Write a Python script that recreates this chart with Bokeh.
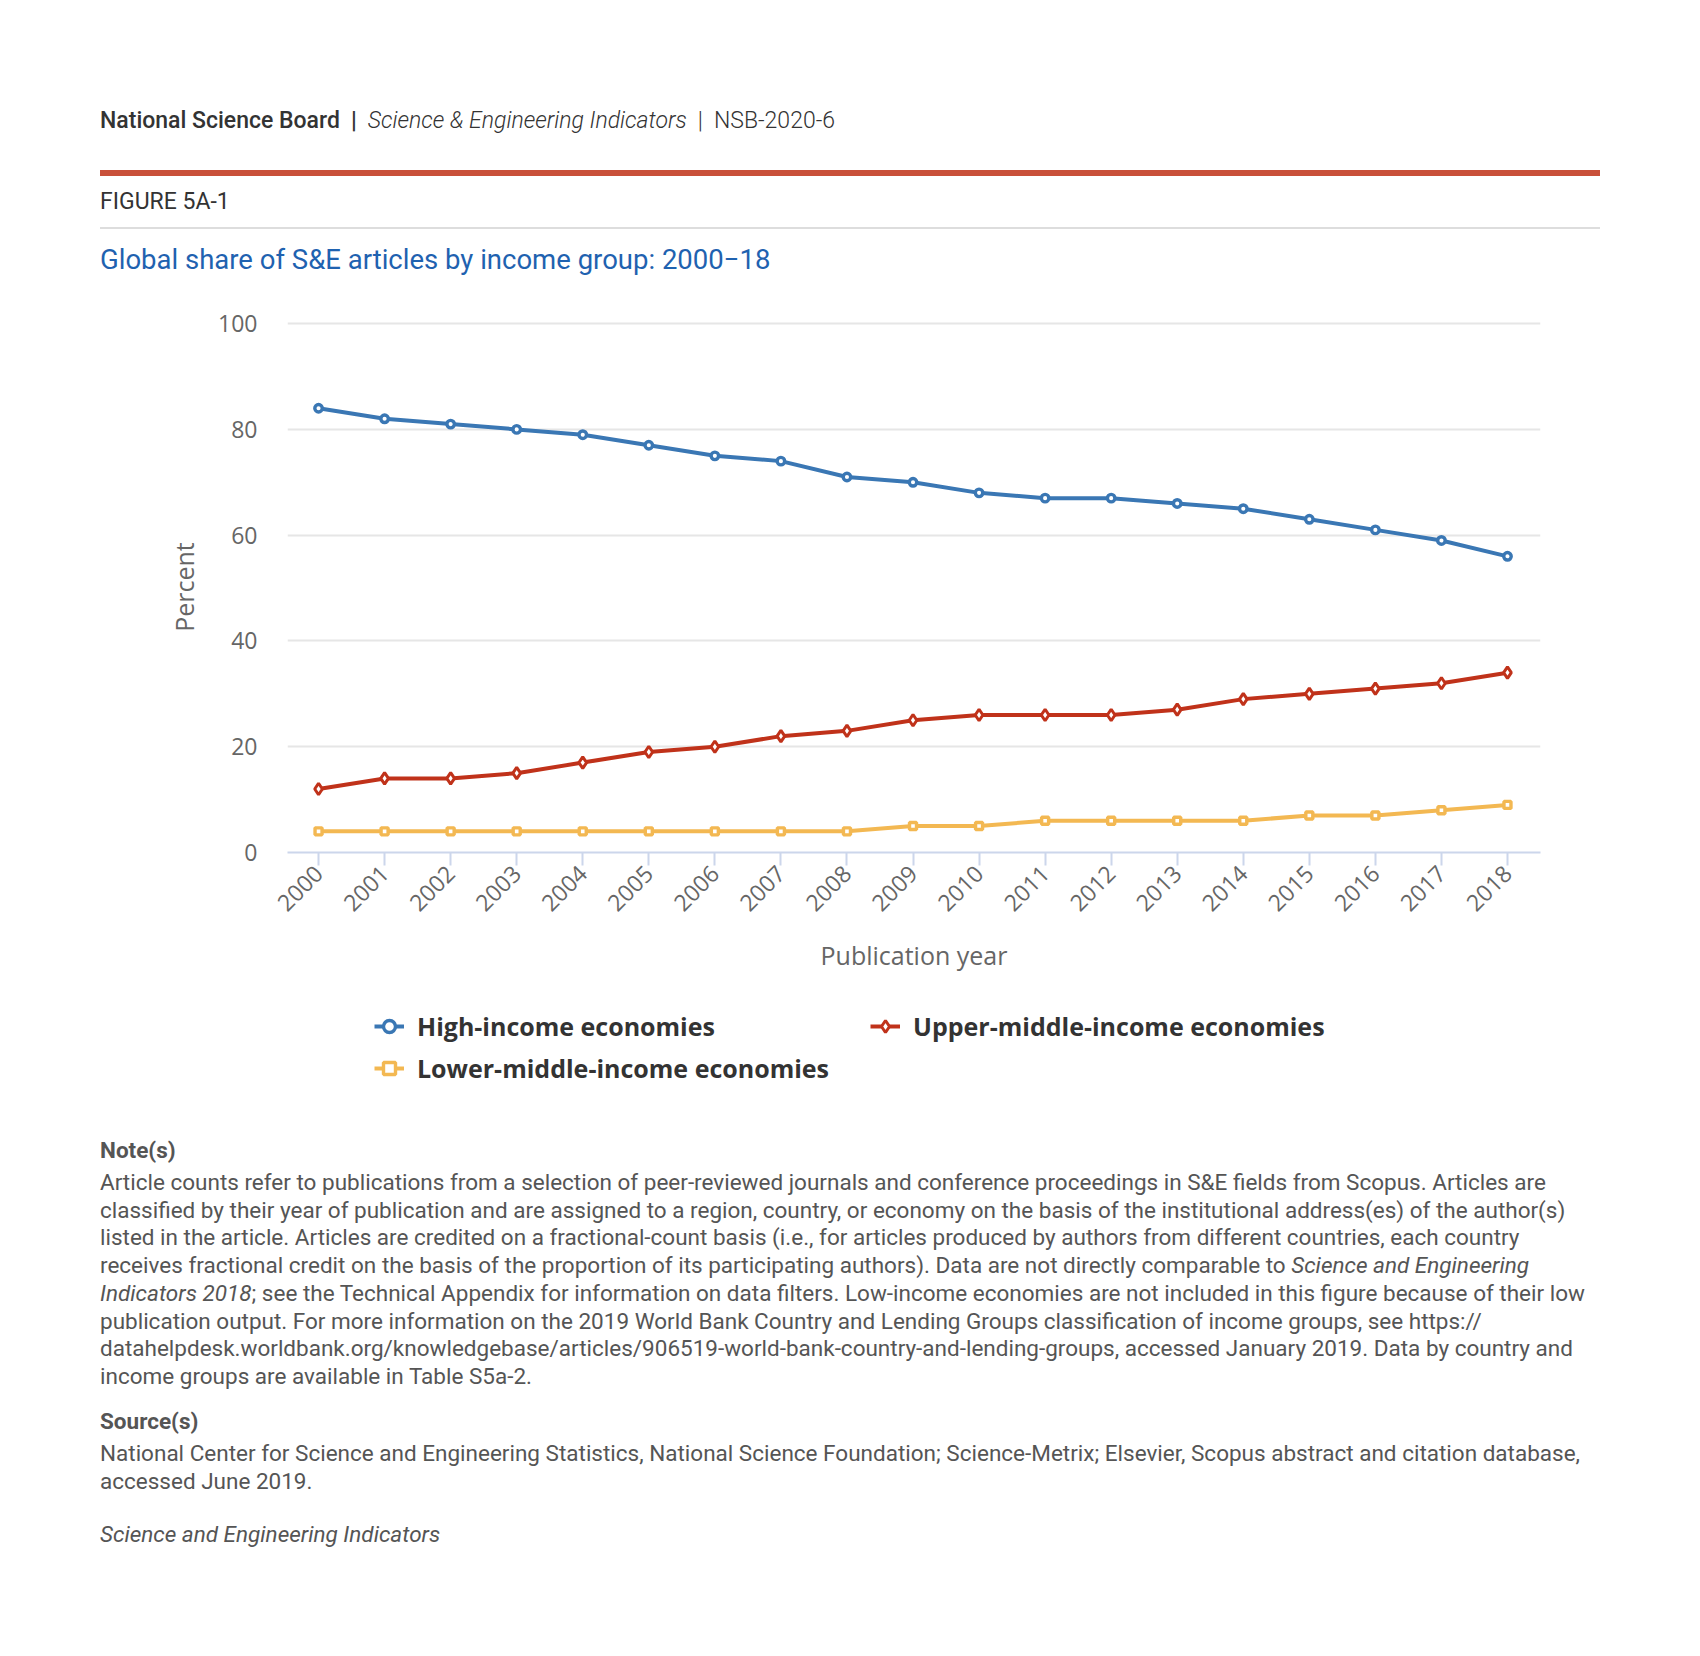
import math
from bokeh.plotting import figure
from bokeh.models import Div, Range1d, FixedTicker, Legend, LegendItem
from bokeh.layouts import column
from bokeh.embed import file_html
from bokeh.resources import INLINE

# ---------------- data ----------------
years = list(range(2000, 2019))
year_labels = [str(y) for y in years]
high_income = [84, 82, 81, 80, 79, 77, 75, 74, 71, 70, 68, 67, 67, 66, 65, 63, 61, 59, 56]
upper_middle = [12, 14, 14, 15, 17, 19, 20, 22, 23, 25, 26, 26, 26, 27, 29, 30, 31, 32, 34]
lower_middle = [4, 4, 4, 4, 4, 4, 4, 4, 4, 5, 5, 6, 6, 6, 6, 7, 7, 8, 9]
y_ticks = [0, 20, 40, 60, 80, 100]
series_names = ["High-income economies", "Upper-middle-income economies",
                "Lower-middle-income economies"]

BLUE = "#3a77b4"
RED = "#c0321a"
YELLOW = "#f3b852"

# ---------------- header ----------------
top_html = """
<div style="position:relative;width:1684px;height:280px;font-family:Roboto;">
 <div style="position:absolute;left:100px;top:106px;line-height:30px;font-size:23px;color:#333333;white-space:nowrap;">
  <span style="font-weight:500">National Science Board</span><span style="font-weight:700;margin:0 11px">|</span><span style="font-style:italic;font-weight:300">Science &amp; Engineering Indicators</span><span style="font-weight:300;margin:0 11px">|</span><span style="font-weight:300">NSB-2020-6</span>
 </div>
 <div style="position:absolute;left:100px;top:170px;width:1500px;height:6px;background:#c9503a;"></div>
 <div style="position:absolute;left:100px;top:187px;line-height:30px;font-size:23px;font-weight:400;color:#333333;white-space:nowrap;">FIGURE 5A-1</div>
 <div style="position:absolute;left:100px;top:227px;width:1500px;height:2px;background:#dddddd;"></div>
 <div style="position:absolute;left:100px;top:242px;line-height:36px;font-size:27.5px;color:#1f62b0;white-space:nowrap;">Global share of S&amp;E articles by income group: 2000&#8722;18</div>
</div>
"""
top_div = Div(text=top_html, width=1684, height=280, margin=(0, 0, 0, 0))

# ---------------- chart ----------------
p = figure(width=1684, height=710,
           x_range=Range1d(1999.53, 2018.5), y_range=Range1d(0, 100.4),
           output_backend="svg", toolbar_location=None,
           min_border_left=287, min_border_right=144,
           min_border_top=41, min_border_bottom=138)
p.outline_line_color = None
p.background_fill_color = "white"
p.border_fill_color = "white"

line_kw = dict(line_width=4)
circ_kw = dict(marker="circle", size=7.5, fill_color="white", line_width=3.4)
diam_kw = dict(marker="diamond", size=11.5, fill_color="white", line_width=3)
sq_kw = dict(marker="square", size=7, fill_color="white", line_width=3.4)

p.line(years, high_income, line_color=BLUE, **line_kw)
p.scatter(years, high_income, line_color=BLUE, **circ_kw)
p.line(years, upper_middle, line_color=RED, **line_kw)
p.scatter(years, upper_middle, line_color=RED, **diam_kw)
p.line(years, lower_middle, line_color=YELLOW, **line_kw)
p.scatter(years, lower_middle, line_color=YELLOW, **sq_kw)

p.xaxis.ticker = FixedTicker(ticks=years)
p.xaxis.major_label_overrides = {y: s for y, s in zip(years, year_labels)}
p.xaxis.major_label_orientation = math.pi / 4
p.xaxis.axis_line_color = "#ccd6eb"
p.xaxis.axis_line_width = 2
p.xaxis.major_tick_line_color = "#ccd6eb"
p.xaxis.major_tick_line_width = 2
p.xaxis.major_tick_out = 13
p.xaxis.major_tick_in = 0
p.xaxis.minor_tick_line_color = None
p.xaxis.major_label_text_font = "Open Sans"
p.xaxis.major_label_text_font_size = "23px"
p.xaxis.major_label_text_color = "#666666"
p.xaxis.major_label_standoff = 4
p.xaxis.axis_label = "Publication year"
p.xaxis.axis_label_text_font = "Open Sans"
p.xaxis.axis_label_text_font_style = "normal"
p.xaxis.axis_label_text_font_size = "25px"
p.xaxis.axis_label_text_color = "#666666"
p.xaxis.axis_label_standoff = 16
p.xgrid.visible = False

p.yaxis.ticker = FixedTicker(ticks=y_ticks)
p.yaxis.axis_line_color = None
p.yaxis.major_tick_line_color = None
p.yaxis.minor_tick_line_color = None
p.yaxis.major_label_text_font = "Open Sans"
p.yaxis.major_label_text_font_size = "23px"
p.yaxis.major_label_text_color = "#666666"
p.yaxis.major_label_standoff = 24
p.yaxis.axis_label = "Percent"
p.yaxis.axis_label_text_font = "Open Sans"
p.yaxis.axis_label_text_font_style = "normal"
p.yaxis.axis_label_text_font_size = "25px"
p.yaxis.axis_label_text_color = "#666666"
p.yaxis.axis_label_standoff = 14
p.ygrid.grid_line_color = "#e6e6e6"
p.ygrid.grid_line_width = 2

# ---------------- legend strip (frame aligned with the chart's frame) ----------------
# The series are drawn here again only as legend proxies: the strip's ranges
# lie outside the data, so nothing but the legend shows.
lg = figure(width=1684, height=110, x_range=Range1d(0, 1), y_range=Range1d(-2, -1),
            output_backend="svg", toolbar_location=None,
            min_border_left=287, min_border_right=144, min_border_top=0, min_border_bottom=0)
lg.axis.visible = False
lg.grid.visible = False
lg.outline_line_color = None
lg.border_fill_color = "white"

k_hl = lg.line(years, high_income, line_color=BLUE, **line_kw)
k_hp = lg.scatter(years, high_income, line_color=BLUE, **circ_kw)
k_ul = lg.line(years, upper_middle, line_color=RED, **line_kw)
k_up = lg.scatter(years, upper_middle, line_color=RED, **diam_kw)
k_ll = lg.line(years, lower_middle, line_color=YELLOW, **line_kw)
k_lp = lg.scatter(years, lower_middle, line_color=YELLOW, **sq_kw)

item_h = LegendItem(label=series_names[0], renderers=[k_hl, k_hp])
item_u = LegendItem(label=series_names[1], renderers=[k_ul, k_up])
item_l = LegendItem(label=series_names[2], renderers=[k_ll, k_lp])

leg_style = dict(padding=0, margin=0, spacing=8, label_height=30, glyph_height=30,
                 glyph_width=30, label_standoff=13, label_text_font="Open Sans",
                 label_text_font_style="bold", label_text_font_size="25px",
                 label_text_color="#333333", background_fill_alpha=0,
                 border_line_color=None, orientation="vertical")
leg1 = Legend(items=[item_h, item_l], location=(87, 15), **leg_style)
leg2 = Legend(items=[item_u], location=(583, 57), **leg_style)
lg.add_layout(leg1)
lg.add_layout(leg2)

# ---------------- notes ----------------
note_lines = [
    "Article counts refer to publications from a selection of peer-reviewed journals and conference proceedings in S&amp;E fields from Scopus. Articles are",
    "classified by their year of publication and are assigned to a region, country, or economy on the basis of the institutional address(es) of the author(s)",
    "listed in the article. Articles are credited on a fractional-count basis (i.e., for articles produced by authors from different countries, each country",
    "receives fractional credit on the basis of the proportion of its participating authors). Data are not directly comparable to <i>Science and Engineering</i>",
    "<i>Indicators 2018</i>; see the Technical Appendix for information on data filters. Low-income economies are not included in this figure because of their low",
    "publication output. For more information on the 2019 World Bank Country and Lending Groups classification of income groups, see https://",
    "datahelpdesk.worldbank.org/knowledgebase/articles/906519-world-bank-country-and-lending-groups, accessed January 2019. Data by country and",
    "income groups are available in Table S5a-2.",
]
source_lines = [
    "National Center for Science and Engineering Statistics, National Science Foundation; Science-Metrix; Elsevier, Scopus abstract and citation database,",
    "accessed June 2019.",
]

common = "position:absolute;left:100px;font-size:22.5px;color:#555555;white-space:nowrap;"
bottom_html = f"""
<div style="position:relative;width:1684px;height:540px;font-family:Roboto;">
 <div style="{common}top:36px;line-height:28px;font-weight:700;">Note(s)</div>
 <div style="{common}top:69px;line-height:27.7px;">{'<br>'.join(note_lines)}</div>
 <div style="{common}top:307px;line-height:28px;font-weight:700;">Source(s)</div>
 <div style="{common}top:340px;line-height:27.7px;">{'<br>'.join(source_lines)}</div>
 <div style="{common}top:420px;line-height:28px;font-style:italic;">Science and Engineering Indicators</div>
</div>
"""
bottom_div = Div(text=bottom_html, width=1684, height=540, margin=(0, 0, 0, 0))

layout = column(top_div, p, lg, bottom_div, spacing=0)
open("out.html", "w").write(file_html(layout, INLINE))
